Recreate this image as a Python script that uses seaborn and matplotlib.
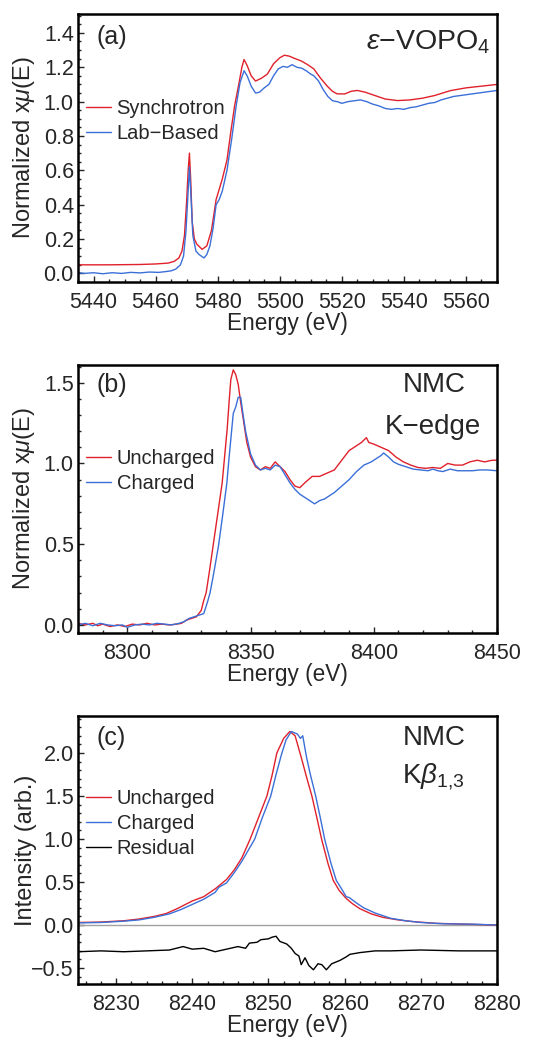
import numpy as np
import pandas as pd
import matplotlib
matplotlib.use('Agg')
import matplotlib.pyplot as plt
from matplotlib.ticker import MultipleLocator
import seaborn as sns

# --- data ---
# (a) V K-edge, epsilon-VOPO4
sync_pts = [(5435, 0.05), (5445, 0.05), (5455, 0.052), (5460, 0.055), (5464, 0.06), (5466, 0.07),
            (5467.5, 0.09), (5468.5, 0.13), (5469.3, 0.22), (5470, 0.42), (5470.5, 0.6), (5470.9, 0.70),
            (5471.3, 0.55), (5471.8, 0.3), (5472.5, 0.2), (5473.3, 0.17), (5475, 0.14), (5476.5, 0.16),
            (5478, 0.25), (5479.5, 0.43), (5480.5, 0.49), (5481.5, 0.55), (5483, 0.66), (5484.2, 0.82),
            (5485.5, 0.98), (5486.9, 1.11), (5487.8, 1.2), (5488.5, 1.245), (5489.5, 1.21), (5490.8, 1.15),
            (5492.2, 1.12), (5494, 1.135), (5496, 1.16), (5498, 1.22), (5500, 1.255), (5501.5, 1.27),
            (5503, 1.265), (5505, 1.25), (5507, 1.236), (5509, 1.215), (5511, 1.19), (5513, 1.14),
            (5515.3, 1.09), (5517, 1.06), (5518.5, 1.045), (5521, 1.045), (5523, 1.06), (5525, 1.065),
            (5527.5, 1.055), (5530.4, 1.037), (5534, 1.015), (5538, 1.006), (5542, 1.01), (5546, 1.02),
            (5549.8, 1.035), (5555, 1.064), (5560, 1.08), (5565, 1.09), (5570, 1.1)]
lab_pts = [(5435, 0.005), (5437, 0.0), (5440, 0.004), (5443, -0.002), (5446, 0.004), (5449, 0.0),
           (5452, 0.006), (5455, 0.003), (5458, 0.008), (5461, 0.006), (5463, 0.01), (5465, 0.015),
           (5466.5, 0.025), (5468, 0.05), (5469, 0.1), (5469.8, 0.25), (5470.4, 0.45), (5470.9, 0.62),
           (5471.4, 0.45), (5472, 0.22), (5473, 0.13), (5474, 0.11), (5475.6, 0.09), (5476.5, 0.11),
           (5477.5, 0.16), (5478.5, 0.26), (5479.5, 0.4), (5480.5, 0.43), (5481.5, 0.48), (5483, 0.6),
           (5484.5, 0.78), (5486, 0.98), (5487.2, 1.11), (5488.5, 1.18), (5489.5, 1.15), (5490.8, 1.09),
           (5492.2, 1.05), (5493.5, 1.055), (5495, 1.08), (5496.5, 1.1), (5498, 1.15), (5499.5, 1.19),
           (5501, 1.205), (5502.5, 1.2), (5504, 1.215), (5505.5, 1.2), (5507, 1.195), (5508.5, 1.18),
           (5510, 1.16), (5511, 1.15), (5512.5, 1.12), (5514, 1.07), (5515.5, 1.03), (5517, 1.005),
           (5518.5, 1.0), (5520, 0.99), (5522, 1.0), (5524, 1.005), (5526, 1.01), (5528, 1.0),
           (5530, 0.985), (5532, 0.975), (5534, 0.96), (5536, 0.955), (5538, 0.96), (5540, 0.955),
           (5542, 0.965), (5544, 0.97), (5546, 0.98), (5548, 0.99), (5550, 0.995), (5552, 1.01),
           (5554, 1.02), (5556, 1.03), (5558, 1.035), (5560, 1.04), (5562, 1.045), (5564, 1.05),
           (5566, 1.055), (5568, 1.06), (5570, 1.065)]

# (b) NMC K-edge
unch_b_pts = [(8280, 0.01), (8283, 0.0), (8286, 0.01), (8288, -0.005), (8290, 0.005), (8293, -0.01),
              (8296, 0.0), (8299, -0.01), (8302, 0.005), (8305, 0.0), (8308, 0.01), (8311, 0.0),
              (8314, 0.005), (8317, 0.0), (8320, 0.005), (8322, 0.01), (8324, 0.03), (8326, 0.04),
              (8328, 0.05), (8330, 0.09), (8331, 0.15), (8332, 0.2), (8333.5, 0.35), (8335, 0.51),
              (8336.8, 0.7), (8338.5, 0.88), (8340.5, 1.21), (8341.3, 1.38), (8342, 1.52), (8343, 1.58),
              (8344, 1.55), (8345, 1.49), (8346, 1.38), (8347, 1.28), (8348.5, 1.13), (8350, 1.04),
              (8352, 0.98), (8354, 0.96), (8356, 0.98), (8358, 0.97), (8360, 1.01), (8362, 0.98),
              (8364, 0.95), (8366, 0.9), (8368, 0.86), (8370, 0.85), (8372, 0.88), (8375, 0.92),
              (8378, 0.92), (8381, 0.94), (8384, 0.96), (8387, 1.02), (8390, 1.08), (8393, 1.11),
              (8395, 1.13), (8397, 1.16), (8398, 1.13), (8400, 1.12), (8403, 1.1), (8406, 1.08),
              (8409, 1.04), (8412, 1.01), (8415, 0.99), (8418, 0.975), (8421, 0.97), (8424, 0.975),
              (8427, 0.97), (8430, 1.0), (8433, 0.99), (8436, 0.99), (8439, 1.01), (8442, 1.02),
              (8445, 1.01), (8448, 1.02), (8450, 1.02)]
ch_b_pts = [(8280, 0.0), (8283, 0.01), (8286, -0.005), (8289, 0.01), (8292, 0.0), (8295, -0.005),
            (8298, 0.0), (8300, -0.015), (8303, 0.0), (8306, 0.005), (8309, 0.0), (8312, 0.01),
            (8315, 0.005), (8318, 0.0), (8321, 0.01), (8323, 0.02), (8325, 0.04), (8327, 0.05),
            (8329, 0.06), (8331, 0.07), (8332.5, 0.14), (8333.6, 0.2), (8335.3, 0.34), (8337, 0.49),
            (8338.7, 0.68), (8340.4, 0.88), (8341.2, 1.02), (8342, 1.15), (8343, 1.31), (8344, 1.35),
            (8345, 1.41), (8346, 1.41), (8347, 1.3), (8348, 1.2), (8349, 1.13), (8350, 1.06),
            (8352, 0.99), (8354, 0.96), (8356, 0.97), (8358, 0.96), (8360, 0.99), (8362, 0.98),
            (8364, 0.93), (8366, 0.88), (8368, 0.84), (8370, 0.81), (8372, 0.79), (8374, 0.77),
            (8376, 0.75), (8378, 0.77), (8380, 0.78), (8382, 0.8), (8384, 0.82), (8387, 0.86),
            (8390, 0.9), (8393, 0.95), (8396, 0.99), (8399, 1.01), (8401, 1.03), (8403, 1.05),
            (8404, 1.065), (8406, 1.04), (8408, 1.01), (8410, 0.995), (8413, 0.98), (8416, 0.965),
            (8419, 0.96), (8422, 0.955), (8424, 0.965), (8426, 0.955), (8428, 0.95), (8431, 0.965),
            (8434, 0.955), (8437, 0.955), (8440, 0.955), (8443, 0.96), (8446, 0.96), (8450, 0.955)]

# (c) NMC K-beta emission
unch_c_pts = [(8225, 0.03), (8228, 0.035), (8231, 0.05), (8233, 0.07), (8235, 0.1), (8236.6, 0.135),
              (8238, 0.19), (8240, 0.28), (8241.5, 0.33), (8243, 0.42), (8244.5, 0.53), (8245.5, 0.64),
              (8246.5, 0.78), (8247.6, 1.0), (8248.7, 1.25), (8249.8, 1.5), (8250.5, 1.75), (8251.1, 2.0),
              (8252, 2.17), (8252.8, 2.25), (8253.5, 2.2), (8254.3, 1.95), (8255, 1.72), (8255.7, 1.5),
              (8256.4, 1.23), (8257, 0.99), (8257.8, 0.72), (8258.5, 0.52), (8259.3, 0.4), (8260.2, 0.31),
              (8261, 0.25), (8262, 0.19), (8263.5, 0.13), (8265, 0.09), (8267, 0.06), (8269, 0.04),
              (8272, 0.02), (8276, 0.01), (8280, 0.0)]
ch_c_pts = [(8225, 0.025), (8228, 0.03), (8231, 0.045), (8233, 0.06), (8235, 0.09), (8237, 0.13),
            (8238.5, 0.18), (8240, 0.24), (8241.5, 0.3), (8243, 0.38), (8243.5, 0.44), (8244.5, 0.49),
            (8245.6, 0.62), (8246.5, 0.74), (8248.2, 1.0), (8249.2, 1.25), (8250.3, 1.5), (8251, 1.75),
            (8251.7, 1.98), (8252.3, 2.15), (8253, 2.25), (8253.8, 2.22), (8254.2, 2.17), (8254.5, 2.2),
            (8255, 1.95), (8255.5, 1.75), (8256.2, 1.5), (8256.8, 1.25), (8257.4, 0.99), (8258.2, 0.72),
            (8258.9, 0.52), (8259.6, 0.42), (8260.2, 0.33), (8260.6, 0.32), (8261.5, 0.26), (8262.5, 0.2),
            (8264, 0.14), (8266, 0.08), (8268, 0.05), (8270, 0.03), (8273, 0.015), (8277, 0.01), (8280, 0.0)]
resid_pts = [(8225, -0.31), (8228, -0.3), (8231, -0.31), (8234, -0.3), (8237, -0.29), (8238.8, -0.25),
             (8240, -0.28), (8241.5, -0.27), (8243, -0.31), (8244.5, -0.28), (8246, -0.25), (8247, -0.27),
             (8247.5, -0.21), (8248.5, -0.2), (8249, -0.17), (8250, -0.16), (8250.5, -0.14), (8251, -0.13),
             (8251.5, -0.19), (8252.4, -0.22), (8253, -0.27), (8253.5, -0.33), (8254, -0.36), (8254.3, -0.46),
             (8254.8, -0.38), (8255.3, -0.47), (8255.9, -0.52), (8256.5, -0.45), (8257, -0.46),
             (8257.6, -0.52), (8258.3, -0.45), (8259.4, -0.41), (8260.2, -0.37), (8260.7, -0.34),
             (8262, -0.32), (8264, -0.3), (8266, -0.3), (8270, -0.29), (8275, -0.3), (8280, -0.3)]

RED = '#e0212b'
BLUE = '#3b6fd8'

sns.set_style('ticks')
plt.rcParams['font.family'] = ['Liberation Sans', 'DejaVu Sans']
plt.rcParams['mathtext.fontset'] = 'custom'
plt.rcParams['mathtext.rm'] = 'Liberation Sans'
plt.rcParams['mathtext.it'] = 'Liberation Sans:italic'
plt.rcParams['axes.linewidth'] = 1.8


def curve(ax, pts, color, label):
    df = pd.DataFrame(pts, columns=['E', 'I'])
    sns.lineplot(data=df, x='E', y='I', ax=ax, color=color, lw=1.0, label=label,
                 sort=False, estimator=None)


def style(ax, xlim, ylim, xmaj, xmin, ymaj, ymin, ylabel):
    ax.set_xlim(*xlim)
    ax.set_ylim(*ylim)
    ax.xaxis.set_major_locator(MultipleLocator(xmaj))
    ax.xaxis.set_minor_locator(MultipleLocator(xmin))
    ax.yaxis.set_major_locator(MultipleLocator(ymaj))
    ax.yaxis.set_minor_locator(MultipleLocator(ymin))
    ax.tick_params(which='both', direction='in', top=False, right=False, width=1.0, labelsize=15.5)
    ax.tick_params(which='major', length=4)
    ax.tick_params(which='minor', length=2.2)
    ax.tick_params(axis='x', pad=7)
    ax.tick_params(axis='y', pad=3)
    ax.set_xlabel('Energy (eV)', fontsize=16.3)
    ax.set_ylabel(ylabel, fontsize=17)
    ax.xaxis.set_label_coords(0.5, -0.112)
    ax.yaxis.set_label_coords(-0.098, 0.5)
    for s in ax.spines.values():
        s.set_color('black')


def legend(ax, y):
    ax.legend(loc='center left', bbox_to_anchor=(0.02, y), frameon=False, fontsize=14.5,
              handlelength=1.2, handletextpad=0.3, labelspacing=0.3, borderpad=0, borderaxespad=0)


fig = plt.figure(figsize=(5.4, 10.38), dpi=100)
w = 419 / 540
h = 268 / 1038
ax_a = fig.add_axes([78 / 540, 1 - 282 / 1038, w, h])
ax_b = fig.add_axes([78 / 540, 1 - 633 / 1038, w, h])
ax_c = fig.add_axes([78 / 540, 1 - 984 / 1038, w, h])

# (a)
curve(ax_a, sync_pts, RED, 'Synchrotron')
curve(ax_a, lab_pts, BLUE, 'Lab\u2212Based')
style(ax_a, (5435, 5570), (-0.05, 1.51), 20, 5, 0.2, 0.05, r'Normalized x$\mu$(E)')
legend(ax_a, 0.60)
ax_a.text(0.045, 0.915, '(a)', transform=ax_a.transAxes, fontsize=18, va='center')
ax_a.text(0.985, 0.895, '$\\epsilon$\u2212VOPO$_4$', transform=ax_a.transAxes, fontsize=20.5,
          ha='right', va='center')

# (b)
curve(ax_b, unch_b_pts, RED, 'Uncharged')
curve(ax_b, ch_b_pts, BLUE, 'Charged')
style(ax_b, (8280, 8450), (-0.05, 1.61), 50, 10, 0.5, 0.1, r'Normalized x$\mu$(E)')
legend(ax_b, 0.603)
ax_b.text(0.045, 0.925, '(b)', transform=ax_b.transAxes, fontsize=18, va='center')
ax_b.text(0.85, 0.925, 'NMC', transform=ax_b.transAxes, fontsize=20, ha='center', va='center')
ax_b.text(0.848, 0.77, 'K\u2212edge', transform=ax_b.transAxes, fontsize=20, ha='center', va='center')

# (c)
ax_c.axhline(0, color='#a0a0a0', lw=1.0, zorder=1)
curve(ax_c, unch_c_pts, RED, 'Uncharged')
curve(ax_c, ch_c_pts, BLUE, 'Charged')
curve(ax_c, resid_pts, 'black', 'Residual')
style(ax_c, (8225, 8280), (-0.685, 2.43), 10, 2, 0.5, 0.1, 'Intensity (arb.)')
legend(ax_c, 0.60)
ax_c.text(0.045, 0.918, '(c)', transform=ax_c.transAxes, fontsize=18, va='center')
ax_c.text(0.85, 0.918, 'NMC', transform=ax_c.transAxes, fontsize=20, ha='center', va='center')
ax_c.text(0.848, 0.773, r'K$\beta_{\mathrm{1{,}3}}$', transform=ax_c.transAxes, fontsize=20,
          ha='center', va='center')

fig.savefig('out.png', dpi=100)
print('saved out.png')
